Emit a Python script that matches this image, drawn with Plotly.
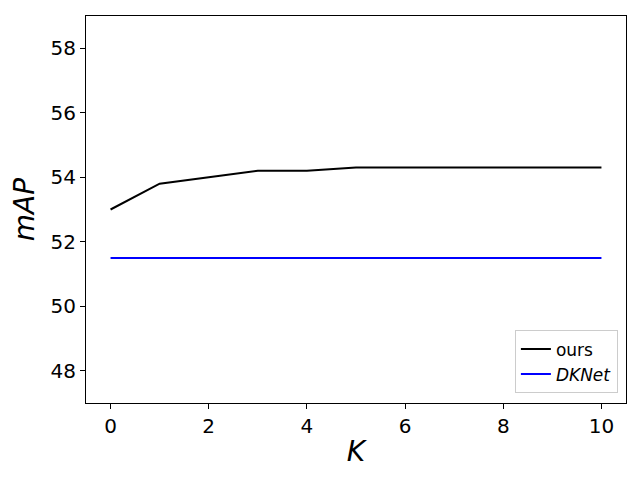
import plotly.graph_objects as go

k_values = [0, 1, 2, 3, 4, 5, 6, 7, 8, 9, 10]
ours = [53.0, 53.8, 54.0, 54.2, 54.2, 54.3, 54.3, 54.3, 54.3, 54.3, 54.3]
dknet = [51.5] * 11
x_ticks = [0, 2, 4, 6, 8, 10]
y_ticks = [48, 50, 52, 54, 56, 58]

fig = go.Figure()
fig.add_trace(go.Scatter(x=k_values, y=ours, mode="lines", name="ours",
                         line=dict(color="black", width=2)))
fig.add_trace(go.Scatter(x=k_values, y=dknet, mode="lines", name="<i>DKNet</i>",
                         line=dict(color="blue", width=2)))

axis_common = dict(showline=True, linecolor="black", linewidth=1, mirror=True,
                   ticks="outside", ticklen=5, tickcolor="black", showgrid=False,
                   zeroline=False, tickfont=dict(family="DejaVu Sans", size=20, color="black"))
fig.update_xaxes(range=[-0.5, 10.5], tickvals=x_ticks,
                 title=dict(text="<i>K</i>", font=dict(family="DejaVu Sans", size=28, color="black"), standoff=4),
                 **axis_common)
fig.update_yaxes(range=[47, 59], tickvals=y_ticks,
                 title=dict(text="<i>mAP</i>", font=dict(family="DejaVu Sans", size=28, color="black"), standoff=8),
                 **axis_common)
fig.update_layout(width=640, height=480, margin=dict(l=78, r=22, t=8, b=85),
                  plot_bgcolor="white", paper_bgcolor="white",
                  legend=dict(x=0.985, y=0.025, xanchor="right", yanchor="bottom",
                              bordercolor="#cccccc", borderwidth=1, bgcolor="white",
                              font=dict(family="DejaVu Sans", size=17, color="black")))
fig.write_html("out.html")
